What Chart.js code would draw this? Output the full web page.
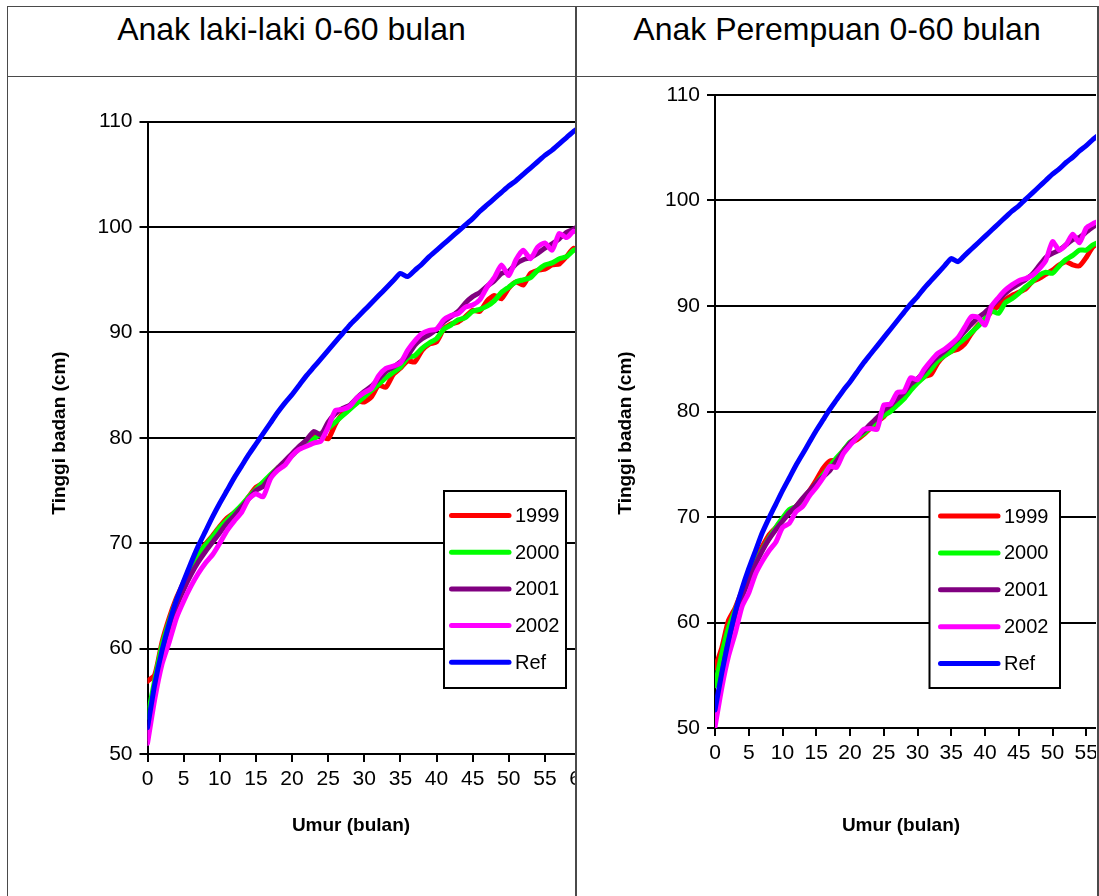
<!DOCTYPE html>
<html>
<head>
<meta charset="utf-8">
<script src="https://cdn.jsdelivr.net/npm/chart.js@4.4.1/dist/chart.umd.min.js"></script>
<style>
html, body { margin: 0; padding: 0; background: #fff; overflow: hidden; width: 1099px; height: 896px; }
canvas { position: absolute; left: 0; top: 0; }
#boys { clip-path: inset(77px 25px 0 8px); }
#girls { clip-path: inset(77px 44px 0 576px); }
.rule { position: absolute; background: #4a4a4a; }
.title { position: absolute; top: 9px; height: 40px; line-height: 40px; text-align: center;
         font-family: "Liberation Sans", Arial, sans-serif; font-size: 32px; color: #000; }
</style>
</head>
<body>
<canvas id="boys" width="600" height="896"></canvas>
<canvas id="girls" width="1140" height="896"></canvas>

<div class="rule" style="left:7px;top:6px;width:1091px;height:1px"></div>
<div class="rule" style="left:7px;top:6px;width:1px;height:900px"></div>
<div class="rule" style="left:7px;top:76px;width:1091px;height:1px"></div>
<div class="rule" style="left:575px;top:6px;width:2px;height:900px"></div>
<div class="rule" style="left:1097px;top:6px;width:2px;height:900px"></div>

<div class="title" style="left:8px;width:567px">Anak laki-laki 0-60 bulan</div>
<div class="title" style="left:577px;width:520px">Anak Perempuan 0-60 bulan</div>

<script>
const months = [0, 1, 2, 3, 4, 5, 6, 7, 8, 9, 10, 11, 12, 13, 14, 15, 16, 17, 18, 19, 20,
    21, 22, 23, 24, 25, 26, 27, 28, 29, 30, 31, 32, 33, 34, 35, 36, 37, 38, 39, 40,
    41, 42, 43, 44, 45, 46, 47, 48, 49, 50, 51, 52, 53, 54, 55, 56, 57, 58, 59, 60]
const seriesNames = ['1999', '2000', '2001', '2002', 'Ref']
const seriesColors = ['#ff0000', '#00ff00', '#800080', '#ff00ff', '#0000ff']
const yTicks = [50, 60, 70, 80, 90, 100, 110]

// anak laki-laki
const boys1999 = [56.9, 57.5, 60.6, 62.9, 64.8, 66.3, 67.7, 68.9, 69.9, 70.7,
    71.6, 72.4, 72.9, 73.5, 74.4, 75.3, 75.7, 76.4, 77.1, 77.7,
    78.4, 79.0, 79.6, 80.1, 80.2, 79.9, 81.3, 82.3, 82.8, 83.5,
    83.4, 83.9, 85.0, 84.8, 86.0, 86.6, 87.3, 87.2, 88.3, 88.9,
    89.1, 90.3, 90.8, 91.0, 91.5, 92.1, 92.0, 93.0, 93.5, 93.2,
    94.2, 94.8, 94.5, 95.6, 95.9, 96.0, 96.4, 96.5, 97.2, 98.0, 97.6]
const boys2000 = [53.5, 57.0, 60.3, 62.6, 64.6, 66.2, 67.7, 68.9, 69.8, 70.6,
    71.5, 72.2, 72.9, 73.6, 74.4, 75.1, 75.8, 76.5, 77.1, 77.7,
    78.3, 79.0, 79.5, 79.9, 80.4, 80.9, 81.5, 82.1, 82.7, 83.3,
    83.9, 84.5, 85.1, 85.7, 86.2, 86.7, 87.6, 87.8, 88.5, 89.0,
    89.4, 90.3, 90.7, 91.2, 91.4, 92.0, 92.2, 92.5, 93.0, 93.8,
    94.3, 94.8, 95.0, 95.2, 95.9, 96.4, 96.6, 97.0, 97.2, 97.8, 98.0]
const boys2001 = [51.5, 55.8, 59.4, 62.0, 64.0, 65.6, 67.0, 68.2, 69.2, 70.1,
    71.0, 71.9, 72.6, 73.4, 74.2, 75.0, 75.4, 76.3, 77.1, 77.8,
    78.5, 79.2, 79.8, 80.6, 80.3, 81.5, 82.3, 82.8, 83.1, 83.8,
    84.4, 84.9, 85.6, 86.3, 86.7, 87.2, 87.8, 88.8, 89.4, 89.8,
    90.3, 91.0, 91.5, 92.0, 92.8, 93.4, 93.8, 94.4, 94.9, 95.6,
    95.8, 96.5, 96.9, 97.1, 97.5, 98.0, 98.4, 98.9, 99.5, 99.8, 100.3]
const boys2002 = [51.0, 55.2, 58.5, 60.6, 62.9, 64.5, 65.9, 67.1, 68.1, 68.9,
    70.0, 71.2, 72.1, 72.9, 74.2, 74.7, 74.4, 76.1, 76.9, 77.4,
    78.3, 78.9, 79.2, 79.5, 79.7, 81.0, 82.6, 82.7, 83.0, 83.8,
    84.3, 84.7, 85.9, 86.6, 86.8, 87.1, 88.3, 89.2, 89.9, 90.2,
    90.3, 91.2, 91.6, 91.8, 92.4, 92.6, 93.1, 94.3, 95.2, 96.4,
    95.4, 96.9, 97.8, 97.0, 98.1, 98.5, 97.8, 99.4, 99.0, 99.6, 99.3]
const boysRef = [52.5, 56.6, 59.8, 62.4, 64.6, 66.4, 68.1, 69.7, 71.1, 72.5,
    73.8, 75.0, 76.2, 77.3, 78.4, 79.4, 80.4, 81.4, 82.4, 83.3,
    84.1, 85.0, 85.9, 86.7, 87.5, 88.3, 89.1, 89.9, 90.7, 91.4,
    92.1, 92.8, 93.5, 94.2, 94.9, 95.6, 95.3, 95.9, 96.5, 97.2,
    97.8, 98.4, 99.0, 99.6, 100.2, 100.8, 101.5, 102.1, 102.7, 103.3,
    103.9, 104.4, 105.0, 105.6, 106.2, 106.8, 107.3, 107.9, 108.5, 109.1, 109.6]

// anak perempuan
const girls1999 = [55.7, 57.6, 60.2, 61.4, 63.0, 64.6, 66.0, 67.2, 68.3, 69.0,
    69.8, 70.4, 71.0, 71.7, 72.5, 73.5, 74.6, 75.3, 75.4, 76.3,
    77.0, 77.3, 77.8, 78.4, 79.0, 79.5, 80.3, 80.8, 81.5, 82.4,
    82.8, 83.3, 83.5, 84.6, 85.3, 85.7, 85.9, 86.4, 87.4, 88.2,
    88.7, 89.5, 90.0, 90.6, 91.0, 91.3, 91.6, 92.3, 92.6, 93.0,
    93.4, 93.9, 94.2, 93.9, 93.8, 94.6, 95.6, 96.0, 96.4, 96.8, 97.2]
const girls2000 = [54.0, 57.0, 59.5, 61.2, 62.8, 64.3, 65.7, 66.9, 68.0, 69.0,
    69.9, 70.7, 71.0, 71.6, 72.4, 73.2, 74.0, 74.8, 75.6, 76.3,
    77.1, 77.5, 77.9, 78.5, 79.1, 79.6, 80.0, 80.6, 81.2, 82.0,
    82.7, 83.3, 84.0, 84.8, 85.3, 85.7, 86.4, 86.9, 87.5, 88.1,
    88.8, 89.5, 89.3, 90.3, 90.7, 91.2, 91.8, 92.3, 92.9, 93.2,
    93.1, 93.8, 94.4, 94.8, 95.3, 95.3, 95.8, 96.1, 96.5, 96.9, 97.3]
const girls2001 = [51.0, 55.0, 58.2, 60.5, 62.4, 64.0, 65.5, 66.8, 67.9, 68.8,
    69.6, 70.4, 71.0, 71.8, 72.5, 73.2, 73.8, 74.4, 75.3, 76.2,
    77.0, 77.6, 78.1, 78.8, 79.4, 80.1, 80.6, 81.2, 81.8, 82.6,
    83.1, 83.8, 84.6, 85.2, 85.7, 86.3, 86.9, 87.6, 88.3, 88.9,
    89.4, 90.0, 90.6, 91.2, 91.7, 92.1, 92.5, 93.0, 93.8, 94.6,
    95.0, 95.3, 95.8, 96.3, 96.5, 97.0, 97.5, 97.8, 98.2, 98.6, 99.0]
const girls2002 = [50.1, 53.8, 56.8, 59.0, 61.5, 62.8, 64.6, 65.8, 66.8, 67.6,
    69.0, 69.4, 70.5, 71.0, 72.0, 72.8, 73.7, 74.8, 74.7, 76.0,
    76.8, 77.5, 78.3, 78.4, 78.3, 80.6, 80.7, 81.8, 81.9, 83.2,
    83.0, 84.0, 84.8, 85.5, 85.9, 86.4, 87.0, 88.0, 89.0, 88.9,
    88.2, 90.0, 90.8, 91.5, 92.0, 92.4, 92.6, 92.9, 93.5, 94.3,
    96.1, 95.3, 95.8, 96.8, 96.0, 97.4, 97.8, 98.1, 98.4, 98.8, 99.2]
const girlsRef = [51.7, 55.2, 58.3, 61.0, 63.2, 65.1, 66.8, 68.5, 69.9, 71.2,
    72.5, 73.7, 74.9, 76.0, 77.1, 78.2, 79.2, 80.2, 81.1, 82.0,
    82.8, 83.7, 84.6, 85.4, 86.2, 87.0, 87.8, 88.6, 89.4, 90.2,
    90.9, 91.7, 92.4, 93.1, 93.8, 94.5, 94.2, 94.8, 95.4, 96.0,
    96.6, 97.2, 97.8, 98.4, 99.0, 99.5, 100.1, 100.7, 101.3, 101.9,
    102.5, 103.0, 103.6, 104.1, 104.7, 105.2, 105.8, 106.3, 106.9, 107.4, 107.9]

const FONT = '"Liberation Sans", Arial, sans-serif'
Chart.defaults.font.family = FONT
Chart.defaults.color = '#000'

// legenda kotak di dalam area grafik
const boxLegend = {
    id: 'boxLegend',
    afterDatasetsDraw(chart, args, o) {
        const ctx = chart.ctx
        ctx.save()
        ctx.fillStyle = '#fff'
        ctx.fillRect(o.left, o.top, o.width, o.height)
        ctx.strokeStyle = '#000'
        ctx.lineWidth = 2
        ctx.strokeRect(o.left, o.top, o.width, o.height)
        chart.data.datasets.forEach((ds, i) => {
            let y = o.top + o.first + i * o.step
            ctx.strokeStyle = ds.borderColor
            ctx.lineWidth = 5
            ctx.lineCap = 'round'
            ctx.beginPath()
            ctx.moveTo(o.left + o.lineX, y)
            ctx.lineTo(o.left + o.lineX + o.lineLen, y)
            ctx.stroke()
            ctx.fillStyle = '#000'
            ctx.font = '20px ' + FONT
            ctx.textBaseline = 'middle'
            ctx.fillText(ds.label, o.left + o.textX, y + 1)
        })
        ctx.restore()
    }
}

// judul sumbu
const axisTitles = {
    id: 'axisTitles',
    afterDraw(chart, args, o) {
        const ctx = chart.ctx
        ctx.save()
        ctx.fillStyle = '#000'
        ctx.font = 'bold 19px ' + FONT
        ctx.textAlign = 'center'
        ctx.textBaseline = 'middle'
        ctx.fillText(o.xText, o.xX, o.xY)
        ctx.translate(o.yX, o.yY)
        ctx.rotate(-Math.PI / 2)
        ctx.fillText(o.yText, 0, 0)
        ctx.restore()
    }
}

function makeChart(id, values, area, legend, titles) {
    let datasets = values.map((vals, i) => ({
        label: seriesNames[i],
        data: vals.map((v, j) => ({ x: months[j], y: v })),
        borderColor: seriesColors[i],
        backgroundColor: seriesColors[i],
        borderWidth: 5,
        pointRadius: 0,
        fill: false,
        tension: 0.2,
        borderJoinStyle: 'round',
        borderCapStyle: 'round',
        order: values.length - i,
    }))

    const ctx = document.getElementById(id).getContext('2d')
    return new Chart(ctx, {
        type: 'line',
        data: { datasets: datasets },
        plugins: [boxLegend, axisTitles],
        options: {
            responsive: false,
            animation: false,
            layout: { padding: { left: 0, top: area.top, right: area.right, bottom: 0 } },
            plugins: {
                legend: { display: false },
                tooltip: { enabled: false },
                boxLegend: legend,
                axisTitles: titles,
            },
            scales: {
                x: {
                    type: 'linear',
                    min: 0,
                    max: 60,
                    afterFit: (s) => { s.height = area.xHeight },
                    ticks: { stepSize: 5, maxRotation: 0, autoSkip: false, padding: 5, font: { size: 21 } },
                    grid: { drawOnChartArea: false, color: '#000', lineWidth: 2, tickLength: 8 },
                    border: { color: '#000', width: 2 },
                },
                y: {
                    min: 50,
                    max: 110,
                    afterFit: (s) => { s.width = area.left },
                    afterBuildTicks: (s) => { s.ticks = yTicks.map(v => ({ value: v })) },
                    ticks: { padding: 7, font: { size: 21 } },
                    grid: { color: '#000', lineWidth: 2, tickLength: 8 },
                    border: { color: '#000', width: 2 },
                },
            },
        },
    })
}

makeChart('boys', [boys1999, boys2000, boys2001, boys2002, boysRef],
    { left: 147.5, top: 121.7, right: 19, xHeight: 142 },
    { left: 444, top: 491, width: 122, height: 197, first: 24.5, step: 36.7, lineX: 7.5, lineLen: 57.5, textX: 71 },
    { xText: 'Umur (bulan)', xX: 351, xY: 826, yText: 'Tinggi badan (cm)', yX: 60, yY: 433 })

makeChart('girls', [girls1999, girls2000, girls2001, girls2002, girlsRef],
    { left: 715, top: 95, right: 20, xHeight: 168 },
    { left: 929.5, top: 491, width: 130.5, height: 197, first: 25, step: 36.9, lineX: 11, lineLen: 57.5, textX: 74.5 },
    { xText: 'Umur (bulan)', xX: 901, xY: 826, yText: 'Tinggi badan (cm)', yX: 626, yY: 433 })
</script>
</body>
</html>
